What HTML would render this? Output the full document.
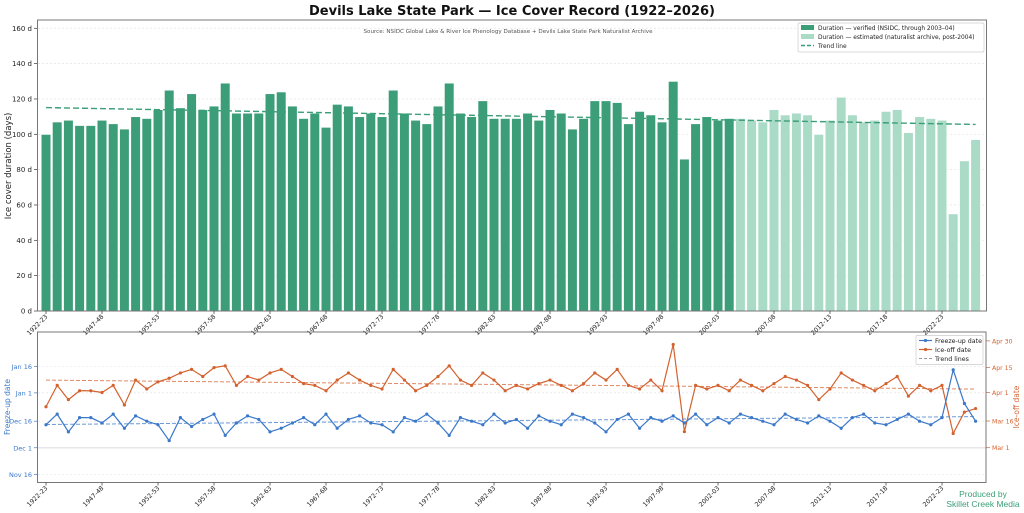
<!DOCTYPE html>
<html><head><meta charset="utf-8"><style>
html,body{margin:0;padding:0;background:#fff;}
svg{display:block;font-family:"DejaVu Sans","Liberation Sans",sans-serif;}
</style></head><body>
<svg id="chart" width="1024" height="513" viewBox="0 0 1024 513" xmlns="http://www.w3.org/2000/svg">
<text x="512" y="15" text-anchor="middle" font-size="13" font-weight="bold" fill="#111">Devils Lake State Park — Ice Cover Record (1922–2026)</text>
<g id="topgrp"></g>
<g id="botgrp"></g>
<text x="983" y="497" text-anchor="middle" font-size="8.5" fill="#3a9e78" font-family="Liberation Sans, sans-serif">Produced by</text>
<text x="983" y="507" text-anchor="middle" font-size="8.5" fill="#3a9e78" font-family="Liberation Sans, sans-serif">Skillet Creek Media</text>
</svg>
<script>
const seasons = ["1922-23"];
for (let y = 1943; y <= 2025; y++) seasons.push(y + "-" + String((y + 1) % 100).padStart(2, "0"));
const duration = [100,107,108,105,105,108,106,103,110,109,114,125,115,123,114,116,129,112,112,112,123,124,116,109,112,104,117,116,110,112,110,125,112,108,106,116,129,112,110,119,109,109,109,112,108,114,112,103,109,119,119,118,106,113,111,107,130,86,106,110,108,109,109,108,107,114,111,112,111,100,108,121,111,107,108,113,114,101,110,109,108,55,85,97];
const verifiedCount = 62;
const freezeDays = [28,34,24,32,32,29,34,26,33,30,28,19,32,27,31,34,22,29,33,31,24,26,29,32,28,34,26,31,33,29,28,24,32,30,34,29,22,32,30,28,34,29,31,26,33,30,28,34,32,29,24,31,34,26,32,30,33,29,34,28,32,29,34,32,30,28,34,31,29,33,30,26,32,34,29,28,31,34,30,28,32,59,40,30];
const iceOffDays = [23,35,27,32,32,31,35,24,38,33,37,39,42,44,40,45,46,35,40,38,42,44,40,36,35,32,38,42,38,35,33,44,38,32,35,40,46,38,35,42,38,32,35,33,36,38,35,32,36,42,38,44,35,33,38,32,58,9,35,33,35,32,38,35,32,36,40,38,35,27,33,42,38,35,32,36,40,29,35,32,35,8,20,22];
const durTicks = [0,20,40,60,80,100,120,140,160];
const freezeTickVals = [0,15,30,46,61];
const freezeTickLabels = ["Nov 16","Dec 1","Dec 16","Jan 1","Jan 16"];
const iceTickVals = [0,15,31,45,60];
const iceTickLabels = ["Mar 1","Mar 16","Apr 1","Apr 15","Apr 30"];

const NS = "http://www.w3.org/2000/svg";
function mk(parent, tag, attrs, text) {
  const e = document.createElementNS(NS, tag);
  for (const k in attrs) e.setAttribute(k, attrs[k]);
  if (text !== undefined) e.textContent = text;
  parent.appendChild(e);
  return e;
}
const xOf = i => 46 + 11.2 * i;
const yDur = v => 311 - v * 1.767;
const yFreeze = d => 474.3 - d * 1.77;
const yIce = d => 447.7 - d * 1.78;
function fit(arr) {
  const n = arr.length; let sx=0, sy=0, sxx=0, sxy=0;
  arr.forEach((v,i)=>{sx+=i;sy+=v;sxx+=i*i;sxy+=i*v;});
  const b = (n*sxy - sx*sy)/(n*sxx - sx*sx); const a = (sy - b*sx)/n;
  return i => a + b*i;
}

// ---------- TOP ----------
const topG = document.getElementById("topgrp");
durTicks.forEach(t => {
  const g = mk(topG, "line", {x1:38, x2:986, y1:yDur(t), y2:yDur(t), stroke:"#e4e4e4", "stroke-width":0.7, "stroke-dasharray":"2,2"});
  
  
  const tk = mk(topG, "line", {x1:34, x2:38, y1:yDur(t), y2:yDur(t), stroke:"#333", "stroke-width":0.7});
  
  
  const lb = mk(topG, "text", {x:32, y:yDur(t)+2.5, "text-anchor":"end", "font-size":7, fill:"#222"}, t + " d");
  
  
});
const src = mk(topG, "text", {x:508, y:33, "text-anchor":"middle", "font-size":5.6, fill:"#555"}, "Source: NSIDC Global Lake & River Ice Phenology Database + Devils Lake State Park Naturalist Archive");


duration.forEach((v, i) => {
  const r = mk(topG, "rect", {x:xOf(i)-4.9, y:yDur(v), width:9.8, height:311-yDur(v), fill: i < verifiedCount ? "#3b9e78" : "#a9dbc7", stroke:"#fff", "stroke-width":0.8});
  
  
});
const tf = fit(duration);
const tl = mk(topG, "line", {x1:xOf(0), y1:yDur(tf(0)), x2:xOf(duration.length-1), y2:yDur(tf(duration.length-1)), stroke:"#3b9e78", "stroke-width":1.4, "stroke-dasharray":"6,3"});


const fr = mk(topG, "rect", {x:37.5, y:20, width:949, height:291, fill:"none", stroke:"#777", "stroke-width":1});


const yl = mk(topG, "text", {x:0, y:0, transform:"translate(11,166) rotate(-90)", "text-anchor":"middle", "font-size":8.5, fill:"#222"}, "Ice cover duration (days)");


function xTicks(parent, yBase, name) {
  seasons.forEach((s, i) => {
    if (i % 5 !== 0) return;
    const t = mk(parent, "line", {x1:xOf(i), x2:xOf(i), y1:yBase, y2:yBase+3, stroke:"#333", "stroke-width":0.7});
    
    
    const l = mk(parent, "text", {x:0, y:0, transform:`translate(${xOf(i)+2},${yBase+6}) rotate(-45)`, "text-anchor":"end", "font-size":6.3, fill:"#222"}, s);
    
    
  });
}
xTicks(topG, 311, 'season-x');
const lg = mk(topG, "g", {});


mk(lg, "rect", {x:798, y:23, width:186, height:29, fill:"#fff", "fill-opacity":0.85, stroke:"#ccc", "stroke-width":0.7, rx:1.5});
const le1 = mk(lg, "rect", {x:801, y:25, width:13, height:5, fill:"#3b9e78"});


mk(lg, "text", {x:818, y:30, "font-size":5.9, fill:"#222"}, "Duration — verified (NSIDC, through 2003–04)");
const le2 = mk(lg, "rect", {x:801, y:34, width:13, height:5, fill:"#a9dbc7"});


mk(lg, "text", {x:818, y:39, "font-size":5.9, fill:"#222"}, "Duration — estimated (naturalist archive, post-2004)");
const le3 = mk(lg, "line", {x1:801, x2:814, y1:45.5, y2:45.5, stroke:"#3b9e78", "stroke-width":1.4, "stroke-dasharray":"4,2"});


mk(lg, "text", {x:818, y:48, "font-size":5.9, fill:"#222"}, "Trend line");

// ---------- BOTTOM ----------
const botG = document.getElementById("botgrp");
freezeTickVals.forEach((d, k) => {
  const g = mk(botG, "line", {x1:38, x2:986, y1:yFreeze(d), y2:yFreeze(d), stroke:"#e6e6e6", "stroke-width":d===15?1.6:0.7, "stroke-dasharray":d===15?"none":"2,2"});
  
  
  const t = mk(botG, "line", {x1:34, x2:38, y1:yFreeze(d), y2:yFreeze(d), stroke:"#3a78c9", "stroke-width":0.7});
  
  
  const l = mk(botG, "text", {x:32, y:yFreeze(d)+2.5, "text-anchor":"end", "font-size":6.5, fill:"#3a78c9"}, freezeTickLabels[k]);
  
  
});
iceTickVals.forEach((d, k) => {
  const t = mk(botG, "line", {x1:986, x2:990, y1:yIce(d), y2:yIce(d), stroke:"#d4622f", "stroke-width":0.7});
  
  
  const l = mk(botG, "text", {x:992, y:yIce(d)+2.5, "font-size":6.2, fill:"#d4622f"}, iceTickLabels[k]);
  
  
});
function series(arr, yf, color, name) {
  const f = fit(arr);
  const tr = mk(botG, "line", {x1:xOf(0), y1:yf(f(0)), x2:xOf(arr.length-1), y2:yf(f(arr.length-1)), stroke:color, "stroke-width":1, "stroke-dasharray":"4,2", opacity:0.75});
  
  
  const p = mk(botG, "polyline", {points: arr.map((v,i)=>xOf(i)+","+yf(v)).join(" "), fill:"none", stroke:color, "stroke-width":1.2});
  
  
  arr.forEach((v,i)=>{
    const c = mk(botG, "circle", {cx:xOf(i), cy:yf(v), r:1.6, fill:color});
    
    
  });
}
series(iceOffDays, yIce, "#d4622f", 'ice-off');
series(freezeDays, yFreeze, "#3a78c9", 'freeze-up');
const bf = mk(botG, "rect", {x:37.5, y:332, width:948.5, height:150.5, fill:"none", stroke:"#777", "stroke-width":1});


xTicks(botG, 482.5, 'dates-x');
const fl = mk(botG, "text", {x:0, y:0, transform:"translate(10,407) rotate(-90)", "text-anchor":"middle", "font-size":7.5, fill:"#3a78c9"}, "Freeze-up date");


const il = mk(botG, "text", {x:0, y:0, transform:"translate(1019,407) rotate(-90)", "text-anchor":"middle", "font-size":7.5, fill:"#d4622f"}, "Ice-off date");


const bl = mk(botG, "g", {});


mk(bl, "rect", {x:916, y:335.5, width:67, height:29, fill:"#fff", "fill-opacity":0.9, stroke:"#ccc", "stroke-width":0.7, rx:1.5});
const b1 = mk(bl, "line", {x1:919, x2:932, y1:340.5, y2:340.5, stroke:"#3a78c9", "stroke-width":1.2});


mk(bl, "circle", {cx:925.5, cy:340.5, r:1.6, fill:"#3a78c9"});
mk(bl, "text", {x:935, y:343, "font-size":6.3, fill:"#222"}, "Freeze-up date");
const b2 = mk(bl, "line", {x1:919, x2:932, y1:349.5, y2:349.5, stroke:"#d4622f", "stroke-width":1.2});


mk(bl, "circle", {cx:925.5, cy:349.5, r:1.6, fill:"#d4622f"});
mk(bl, "text", {x:935, y:352, "font-size":6.3, fill:"#222"}, "Ice-off date");
const b3 = mk(bl, "line", {x1:919, x2:932, y1:358.5, y2:358.5, stroke:"#999", "stroke-width":1, "stroke-dasharray":"3,2"});


mk(bl, "text", {x:935, y:361, "font-size":6.3, fill:"#222"}, "Trend lines");
</script>
</body></html>
